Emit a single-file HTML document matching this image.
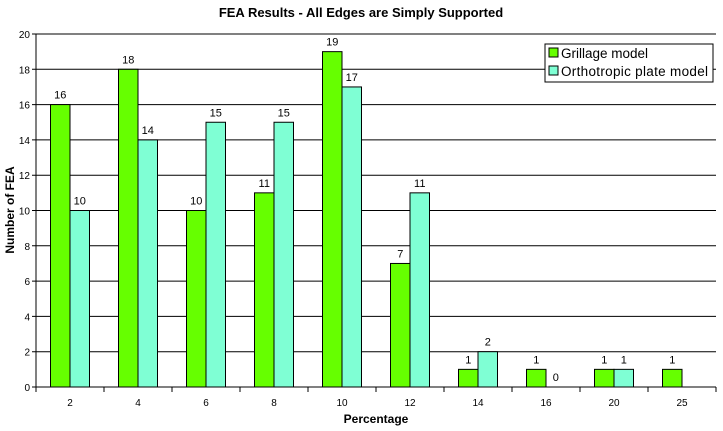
<!DOCTYPE html>
<html><head><meta charset="utf-8"><style>
body{margin:0;background:#fff;}
svg{display:block;font-family:"Liberation Sans",Arial,sans-serif;}
</style></head><body>
<svg id="c" width="723" height="431"></svg>
<script>
const categories=["2","4","6","8","10","12","14","16","20","25"];
const grillage=[16,18,10,11,19,7,1,1,1,1];
const ortho=[10,14,15,15,17,11,2,0,1,null];
const yTicks=[0,2,4,6,8,10,12,14,16,18,20];
const NS="http://www.w3.org/2000/svg";
const svg=document.getElementById('c');
const L=36,R=716,T=34,B=387,yMax=20;
const cw=(R-L)/categories.length,bw=19.5;
const y=v=>B-(B-T)*v/yMax;
const xc=i=>L+cw*(i+0.5);
function mk(t,a,txt){const e=document.createElementNS(NS,t);for(const k in a)e.setAttribute(k,a[k]);if(txt!=null)e.textContent=txt;svg.appendChild(e);return e;}
let e;
e=mk('text',{x:361,y:17,'text-anchor':'middle','font-size':13,'font-weight':'bold'},'FEA Results - All Edges are Simply Supported');


yTicks.forEach(v=>{
 e=mk('line',{x1:L-4,x2:R,y1:y(v),y2:y(v),stroke:'#000','stroke-width':1});
 
 
 e=mk('text',{x:L-6,y:y(v)+4,'text-anchor':'end','font-size':10},v);
 
 
});
e=mk('line',{x1:L,x2:L,y1:T,y2:B,stroke:'#000'});


for(let i=0;i<=categories.length;i++){
 e=mk('line',{x1:L+cw*i,x2:L+cw*i,y1:B,y2:B+5,stroke:'#000'});
 
 
}
categories.forEach((c,i)=>{
 e=mk('text',{x:xc(i),y:B+19,'text-anchor':'middle','font-size':10},c);
 
 
 [[grillage[i],'#66ff00',-bw],[ortho[i],'#7fffd4',0]].forEach(([v,col,off])=>{
  if(v==null)return;
  if(v>0){
   e=mk('rect',{x:xc(i)+off,y:y(v),width:bw,height:B-y(v),fill:col,stroke:'#000','stroke-width':1});
   
   
  }
  e=mk('text',{x:xc(i)+off+bw/2,y:y(v)-6,'text-anchor':'middle','font-size':11},v);
  
  
 });
});
e=mk('text',{x:376,y:423,'text-anchor':'middle','font-size':12,'font-weight':'bold'},'Percentage');


e=mk('text',{x:14,y:210,'text-anchor':'middle','font-size':12,'font-weight':'bold',transform:'rotate(-90 14 210)'},'Number of FEA');


e=mk('rect',{x:545,y:44,width:168,height:38,fill:'#fff',stroke:'#000'});


[['Grillage model','#66ff00',58],['Orthotropic plate model','#7fffd4',76]].forEach(([t,col,yy])=>{
 e=mk('rect',{x:549,y:yy-10,width:9,height:9,fill:col,stroke:'#000'});
 
 
 e=mk('text',{x:561,y:yy,'font-size':13.5,textLength:147},t);
 if(t.length<20)e.removeAttribute('textLength');
 
 
});
</script>
</body></html>
